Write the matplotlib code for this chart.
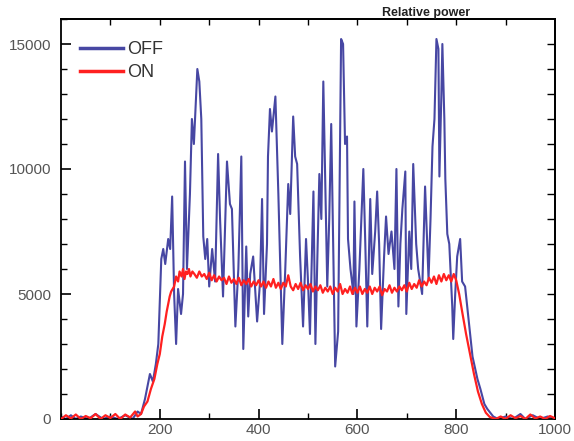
import matplotlib
matplotlib.use("Agg")
import matplotlib.pyplot as plt
from matplotlib.ticker import MultipleLocator

plt.rcParams['font.family'] = ['Liberation Sans', 'DejaVu Sans']

# OFF series (x, value)
off_x = [0, 10, 20, 30, 40, 55, 70, 85, 100, 115, 130, 145, 155, 162,
         170, 180, 186, 192, 197, 203, 207, 211, 217, 221, 225, 229, 233, 237,
         243, 247, 251, 255, 261, 265, 269, 276, 280, 284, 288, 292, 296, 300,
         306, 312, 318, 322, 328, 336, 342, 346, 353, 359, 365, 369, 375, 379,
         383, 389, 397, 403, 407, 411, 417, 419, 423, 427, 434, 440, 448, 454,
         460, 464, 470, 474, 478, 484, 490, 496, 500, 504, 511, 515, 519, 523,
         527, 531, 535, 539, 543, 547, 551, 555, 561, 567, 571, 575, 579, 581,
         586, 592, 594, 598, 604, 612, 616, 620, 626, 630, 636, 640, 644, 648,
         654, 658, 663, 669, 675, 679, 683, 687, 691, 697, 699, 705, 709, 713,
         719, 723, 727, 731, 737, 744, 748, 752, 756, 760, 764, 766, 770, 772,
         776, 778, 782, 786, 792, 794, 798, 802, 808, 812, 818, 825, 833, 843,
         849, 857, 863, 875, 885, 900, 915, 930, 940, 955, 970, 985, 1000]
off_y = [100, 0, 150, 0, 100, 0, 200, 0, 100, 0, 150, 0, 300, 200,
         800, 1800, 1500, 2200, 3000, 6400, 6800, 6200, 7200, 6800, 8900, 5000, 3000, 5200,
         4200, 5000, 10300, 6000, 9000, 12000, 11000, 14000, 13500, 12000, 7300, 6400, 7200, 5300,
         6800, 5500, 10600, 8000, 4900, 10300, 8600, 8400, 3700, 6000, 10500, 2800, 6900, 4100,
         5800, 6500, 3900, 5500, 8800, 4200, 7000, 10500, 12400, 11500, 12900, 9000, 3000, 6000,
         9400, 8200, 12100, 10500, 10200, 6500, 3700, 7200, 5500, 3400, 9100, 3000, 6500, 9800,
         8000, 13500, 9500, 5300, 8000, 11800, 7000, 2100, 3500, 15200, 15000, 11000, 11300, 7200,
         6000, 5000, 8700, 3700, 6000, 10000, 7000, 3700, 8800, 5800, 7500, 9100, 7000, 3600,
         6500, 8100, 6600, 7500, 6000, 10000, 4500, 7000, 8400, 9900, 4200, 7500, 6000, 10200,
         7000, 6000, 5500, 5000, 9300, 5600, 8000, 10900, 12000, 15200, 14800, 9700, 13000, 15000,
         12000, 9600, 7400, 7000, 4500, 3200, 5000, 6500, 7200, 5500, 5300, 4000, 2500, 1600,
         1200, 600, 400, 100, 0, 100, 0, 200, 0, 150, 0, 100, 0]

# ON series (x, value)
on_x = [0, 10, 20, 30, 40, 50, 60, 70, 80, 90, 100, 110, 120, 130, 140, 150, 155, 162,
        168, 175, 182, 189, 195, 200, 205, 210, 214, 217, 220, 223, 226,
        229, 233, 237, 240, 244, 247, 250, 253, 256, 259, 262, 266, 270, 275, 280, 285, 290,
        295, 300, 305, 310, 315, 320, 325, 330, 335, 340, 345, 350, 355, 360, 365, 370,
        375, 380, 385, 390, 395, 400, 405, 410, 415, 420, 425, 430, 435, 440, 445,
        450, 455, 460, 465, 470, 475, 480, 485, 490, 495, 500, 505, 510, 515, 520,
        525, 530, 535, 540, 545, 550, 555, 560, 565, 570, 575, 580, 585, 590, 595,
        600, 605, 610, 615, 620, 625, 630, 635, 640, 645, 650, 655, 660, 665, 670,
        675, 680, 685, 690, 695, 700, 705, 710, 715, 720, 725, 730, 735, 740, 745,
        750, 755, 760, 765, 770, 775, 780, 785, 790, 795, 800, 806, 812, 820, 828,
        836, 844, 852, 860, 868, 880, 890, 900, 910, 920, 930, 940, 950, 960, 970,
        980, 990, 1000]
on_y = [0, 150, 20, 180, 0, 120, 30, 200, 0, 150, 40, 200, 0, 180, 60, 300, 100, 200,
        500, 700, 1200, 1600, 2200, 2600, 3300, 3800, 4300, 4600, 4900, 5100, 5200,
        5300, 5700, 5500, 5900, 5700, 6000, 5600, 5900, 5800, 6000, 5700, 5900, 5800, 5650, 5900, 5700, 5800,
        5600, 5850, 5550, 5750, 5500, 5700, 5550, 5650, 5400, 5700, 5450, 5600, 5400, 5650, 5350, 5550,
        5400, 5600, 5300, 5500, 5350, 5550, 5300, 5500, 5250, 5500, 5300, 5600, 5250, 5450, 5200,
        5450, 5300, 5750, 5300, 5150, 5400, 5200, 5450, 5150, 5350, 5200, 5400, 5100, 5300, 5150,
        5350, 5050, 5250, 5100, 5300, 5000, 5250, 5100, 5400, 5000, 5200, 5050, 5300, 5000, 5250,
        5050, 5300, 5000, 5200, 5050, 5300, 5000, 5250, 5100, 5300, 4950, 5200, 5100, 5350, 5050,
        5250, 5100, 5300, 5150, 5350, 5100, 5450, 5200, 5400, 5250, 5550, 5300, 5500, 5350, 5650,
        5450, 5700, 5400, 5750, 5500, 5800, 5550, 5750, 5500, 5800, 5550, 5000, 4300, 3400, 2600,
        1800, 1100, 600, 250, 80, 0, 100, 0, 150, 30, 120, 0, 180, 20, 100,
        0, 120, 30]

series_labels = ["OFF", "ON"]
x_ticks = [200, 400, 600, 800, 1000]
y_ticks = [0, 5000, 10000, 15000]

fig = plt.figure(figsize=(5.74, 4.41), dpi=100)
ax = fig.add_axes([61/574, 1 - 419/441, 494/574, 400/441])

ax.plot(off_x, off_y, color="#4747a3", lw=1.5, label=series_labels[0], zorder=2)
ax.plot(on_x, on_y, color="#ff2020", lw=1.6, label=series_labels[1], zorder=3)

ax.set_xlim(0, 1000)
ax.set_ylim(0, 16000)
ax.set_xticks(x_ticks)
ax.set_yticks(y_ticks)
ax.xaxis.set_minor_locator(MultipleLocator(100))
ax.yaxis.set_minor_locator(MultipleLocator(1000))
ax.tick_params(which='major', direction='in', length=7, width=1.2,
               labelsize=11, labelcolor='#555555', pad=3,
               top=False, right=False)
ax.tick_params(axis='y', which='major', pad=7)
ax.tick_params(which='minor', direction='in', length=4, width=1.0,
               top=False, right=False)

sec_top = ax.secondary_xaxis('top')
sec_top.set_xticks(range(100, 1000, 100))
sec_top.tick_params(direction='in', length=4, width=1.0, labeltop=False)
sec_right = ax.secondary_yaxis('right')
sec_right.set_yticks(range(1000, 16000, 1000))
sec_right.tick_params(direction='in', length=6, width=1.0, labelright=False)

for s in ax.spines.values():
    s.set_linewidth(1.3)
for s in list(sec_top.spines.values()) + list(sec_right.spines.values()):
    s.set_linewidth(1.3)

leg = ax.legend(loc='upper left', bbox_to_anchor=(0.038, 0.945), frameon=False,
                fontsize=13, handlelength=2.4, handletextpad=0.2,
                labelspacing=0.35, borderpad=0, borderaxespad=0)
for t in leg.get_texts():
    t.set_color('#333333')
for h in leg.get_lines():
    h.set_linewidth(2.5)

fig.text(426/574, 1 - 13/441, "Relative power", ha='center', va='center',
         fontsize=9, fontweight='bold', color='#222222')

fig.savefig("out.png", dpi=100)
